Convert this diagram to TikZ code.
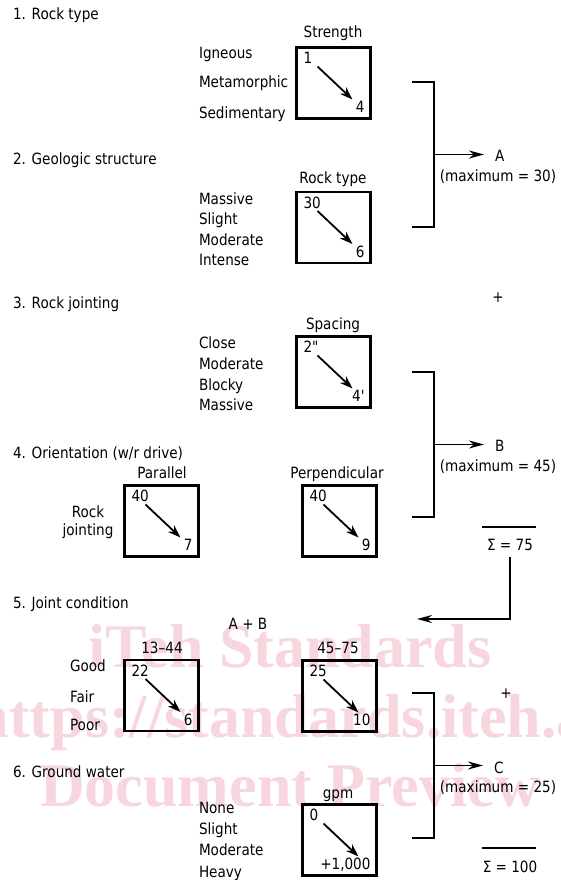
\documentclass[tikz,border=0pt]{standalone}
\usepackage{fontspec}
\usetikzlibrary{arrows.meta}
% narrow humanist sans for all labels, serif bold for the background stamp
\newfontfamily\diagfont{DejaVu Sans}[FakeStretch=0.875]
\newfontfamily\markfont{Liberation Serif}
\definecolor{stamppink}{RGB}{247,214,222}

\tikzset{
  every node/.style={font=\diagfont\fontsize{15.5}{18}\selectfont, inner sep=0pt, outer sep=0pt},
  heading/.style={anchor=base west},
  item/.style={anchor=base west},
  title/.style={anchor=base},
  stamp/.style={anchor=base, text=stamppink, font=\markfont\bfseries\fontsize{62}{62}\selectfont},
  ratebox/.style={draw, line width=2.3pt, minimum width=74pt, minimum height=71pt},
  inarrow/.style={line width=1.8pt, -{Stealth[length=13pt,width=9pt]}},
  bracket/.style={line width=2.4pt},
  outarrow/.style={line width=1.8pt, -{Stealth[length=15pt,width=8pt]}},
  sumrule/.style={line width=1.3pt}
}

% a rating box: name, centre, upper-left value, lower-right value
\newcommand\ratingbox[4]{%
  \node[ratebox] (#1) at (#2) {};
  \node[anchor=base west] (#1-hi) at ([shift={(7,16)}]#1.north west) {#3};
  \node[anchor=base east] (#1-lo) at ([shift={(-6,-6)}]#1.south east) {#4};
  \draw[inarrow] ([shift={(21,19)}]#1.north west) -- ([shift={(56,52)}]#1.north west);
}

\begin{document}
\begin{tikzpicture}[x=1pt, y=-1pt]
\useasboundingbox (0,0) rectangle (560,880);
\clip (0,0) rectangle (560,880);
\fill[white] (0,0) rectangle (560,880);

% background stamp
\node[stamp] (st1) at (290,667) {iTeh Standards};
\node[stamp] (st2) at (290,737) {https://standards.iteh.ai};
\node[stamp] (st3) at (290,806) {Document Preview};

% section headings
\node[heading] (h1) at (13,20) {1. Rock type};
\node[heading] (h2) at (13,164) {2. Geologic structure};
\node[heading] (h3) at (13,308) {3. Rock jointing};
\node[heading] (h4) at (13,458) {4. Orientation (w/r drive)};
\node[heading] (h5) at (13,608) {5. Joint condition};
\node[heading] (h6) at (13,777) {6. Ground water};

% 1. rock type
\node[item] (i1a) at (199,59) {Igneous};
\node[item] (i1b) at (199,88) {Metamorphic};
\node[item] (i1c) at (199,118) {Sedimentary};
\node[title] (t1) at (333,38) {Strength};
\ratingbox{b1}{333.5,83}{1}{4}

% 2. geologic structure
\node[item] (i2a) at (199,204) {Massive};
\node[item] (i2b) at (199,224) {Slight};
\node[item] (i2c) at (199,245) {Moderate};
\node[item] (i2d) at (199,265) {Intense};
\node[title] (t2) at (333,183) {Rock type};
\ratingbox{b2}{333.5,227.5}{30}{6}

% 3. rock jointing
\node[item] (i3a) at (199,348) {Close};
\node[item] (i3b) at (199,369) {Moderate};
\node[item] (i3c) at (199,390) {Blocky};
\node[item] (i3d) at (199,410) {Massive};
\node[title] (t3) at (333,329) {Spacing};
\ratingbox{b3}{333.5,372}{2"}{4'}

% 4. orientation
\node[title] (rj1) at (88,517) {Rock};
\node[title] (rj2) at (88,535) {jointing};
\node[title] (t4a) at (162,478) {Parallel};
\ratingbox{bpar}{161.5,521}{40}{7}
\node[title] (t4b) at (337,478) {Perpendicular};
\ratingbox{bperp}{339.5,521}{40}{9}

% 5. joint condition
\node[title] (ab) at (248,629) {A + B};
\node[item] (i5a) at (70,671) {Good};
\node[item] (i5b) at (70,702) {Fair};
\node[item] (i5c) at (70,730) {Poor};
\node[title] (t5a) at (162,653) {13–44};
\ratingbox{bjc1}{161.5,695.5}{22}{6}
\node[title] (t5b) at (338,653) {45–75};
\ratingbox{bjc2}{339.5,696}{25}{10}

% 6. ground water
\node[item] (i6a) at (199,813) {None};
\node[item] (i6b) at (199,834) {Slight};
\node[item] (i6c) at (199,855) {Moderate};
\node[item] (i6d) at (199,877) {Heavy};
\node[title] (t6) at (338,798) {gpm};
\ratingbox{bgw}{339.5,840}{0}{+1,000}

% group A
\coordinate (brA) at (434,154.5);
\draw[bracket] (412,82) -- (434,82) -- (434,227) -- (412,227);
\node[anchor=base west] (A) at (495,161) {A};
\node[title] (maxA) at (498,181) {(maximum = 30)};
\draw[outarrow, shorten >=11pt] (brA) -- (brA -| A.west);

\node (plus1) at (498,298) {+};

% group B
\coordinate (brB) at (434,444.5);
\draw[bracket] (412,372) -- (434,372) -- (434,517) -- (412,517);
\node[anchor=base west] (B) at (495,451) {B};
\node[title] (maxB) at (498,471) {(maximum = 45)};
\draw[outarrow, shorten >=11pt] (brB) -- (brB -| B.west);

% first sum, fed back to the joint condition rating
\draw[sumrule] (482,527) -- (536,527);
\node[title] (s75) at (510,550) {Σ = 75};
\coordinate (abin) at (417,619);
\draw[outarrow, shorten <=7pt] (s75.south) |- (abin);

\node (plus2) at (506,694) {+};

% group C
\coordinate (brC) at (434,765.5);
\draw[bracket] (412,693) -- (434,693) -- (434,838) -- (412,838);
\node[anchor=base west] (C) at (494,773) {C};
\node[title] (maxC) at (498,792) {(maximum = 25)};
\draw[outarrow, shorten >=11pt] (brC) -- (brC -| C.west);

% total
\draw[sumrule] (482,848) -- (536,848);
\node[title] (s100) at (510,872) {Σ = 100};
\end{tikzpicture}
\end{document}
